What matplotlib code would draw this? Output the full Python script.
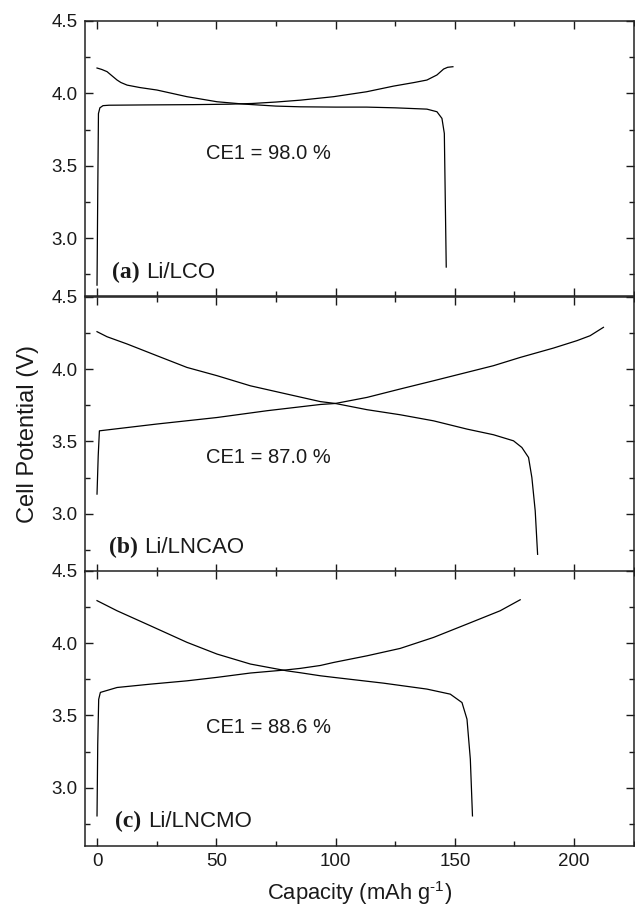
import matplotlib
matplotlib.use("Agg")
import matplotlib.pyplot as plt
from matplotlib.ticker import MultipleLocator

plt.rcParams['font.family'] = ['Liberation Sans', 'DejaVu Sans']
plt.rcParams['mathtext.fontset'] = 'custom'
plt.rcParams['mathtext.rm'] = 'Liberation Sans'
plt.rcParams['mathtext.it'] = 'Liberation Sans:italic'
plt.rcParams['mathtext.bf'] = 'Liberation Sans:bold'

# ---- data ----
a_dis_x = [0, 2, 4.2, 6, 8.4, 10, 12.6, 18, 25.1, 37.7, 50.3, 61.4, 75, 85.3, 100, 113, 125, 138.3, 142.5, 144.6, 145.6, 146, 146.4]
a_dis_y = [4.175, 4.165, 4.15, 4.125, 4.092, 4.075, 4.057, 4.04, 4.023, 3.977, 3.942, 3.926, 3.912, 3.907, 3.905, 3.905, 3.900, 3.891, 3.873, 3.827, 3.723, 3.262, 2.80]
a_chg_x = [0, 0.3, 0.6, 1.2, 2.5, 5, 20, 40, 55, 65, 75, 85.3, 99.2, 113, 124.3, 133, 138.3, 142.5, 145.3, 147, 149.2]
a_chg_y = [2.675, 3.3, 3.86, 3.9, 3.915, 3.918, 3.92, 3.922, 3.925, 3.93, 3.94, 3.953, 3.977, 4.011, 4.05, 4.075, 4.092, 4.127, 4.168, 4.18, 4.184]

b_dis_x = [0, 4.2, 12.6, 25.1, 37.7, 50.3, 64.3, 79.6, 93.6, 99.9, 113.2, 127.1, 141.1, 155.1, 166.2, 174.6, 178.1, 180.9, 182.3, 183.7, 184.7]
b_dis_y = [4.258, 4.223, 4.173, 4.092, 4.011, 3.954, 3.884, 3.827, 3.775, 3.762, 3.719, 3.684, 3.642, 3.585, 3.546, 3.504, 3.458, 3.389, 3.25, 3.02, 2.72]
b_chg_x = [0, 0.5, 1.0, 25.1, 50.3, 71.3, 93.6, 99.9, 113.2, 127.1, 141.1, 155.1, 166.2, 177.4, 191.4, 201.2, 206.7, 212.3]
b_chg_y = [3.136, 3.4, 3.573, 3.62, 3.665, 3.712, 3.755, 3.762, 3.804, 3.862, 3.919, 3.977, 4.023, 4.08, 4.145, 4.196, 4.23, 4.288]

c_dis_x = [0, 8.4, 22.3, 37.7, 50.3, 64.3, 79.6, 85.2, 93.6, 99.2, 120.1, 138.3, 148.1, 153, 155.1, 156.5, 157.4]
c_dis_y = [4.293, 4.223, 4.12, 4.005, 3.924, 3.855, 3.808, 3.795, 3.774, 3.763, 3.723, 3.682, 3.647, 3.589, 3.474, 3.198, 2.806]
c_chg_x = [0, 0.3, 0.7, 1.4, 8.4, 22.3, 37.7, 50.3, 64.3, 79.6, 85.2, 93.6, 99.2, 113.2, 127.1, 141.1, 155.1, 169, 177.4]
c_chg_y = [2.806, 3.3, 3.611, 3.659, 3.693, 3.716, 3.739, 3.763, 3.793, 3.815, 3.825, 3.845, 3.866, 3.912, 3.963, 4.039, 4.131, 4.223, 4.299]

panel_letters = ['(a)', '(b)', '(c)']
panel_names = ['Li/LCO', 'Li/LNCAO', 'Li/LNCMO']
ce_labels = ['CE1 = 98.0 %', 'CE1 = 87.0 %', 'CE1 = 88.6 %']
ce_y = [3.544, 3.35, 3.378]
yticks = [3.0, 3.5, 4.0, 4.5]
xticks = [0, 50, 100, 150, 200]

curves = [(a_dis_x, a_dis_y, a_chg_x, a_chg_y),
          (b_dis_x, b_dis_y, b_chg_x, b_chg_y),
          (c_dis_x, c_dis_y, c_chg_x, c_chg_y)]

letter_x = [6.3, 4.9, 7.7]

TXT = '#1a1a1a'
fig = plt.figure(figsize=(6.35, 9.08), dpi=100)
left, width, height = 0.134, 0.864, 0.3029
bottoms = [0.674, 0.3704, 0.0686]
axes = []
for i in range(3):
    ax = fig.add_axes([left, bottoms[i], width, height])
    axes.append(ax)
    dx, dy, cx, cy = curves[i]
    ax.plot(dx, dy, color='black', lw=0.9)
    ax.plot(cx, cy, color='black', lw=0.9)
    ax.set_xlim(-5, 225)
    ax.set_ylim(2.6, 4.5)
    ax.set_yticks(yticks)
    ax.set_yticklabels([f'{v:.1f}' for v in yticks])
    ax.yaxis.set_minor_locator(MultipleLocator(0.25))
    ax.set_xticks(xticks)
    ax.xaxis.set_minor_locator(MultipleLocator(25))
    ax.tick_params(which='both', direction='in', top=True, right=True,
                   labelsize=13.5, colors=TXT, width=1.0)
    ax.tick_params(which='major', length=6, pad=5.5)
    ax.tick_params(which='minor', length=3.5)
    for s in ax.spines.values():
        s.set_linewidth(1.1)
        s.set_color('#222222')
    if i < 2:
        ax.tick_params(labelbottom=False)
    ax.text(45.8, ce_y[i], ce_labels[i], fontsize=14.5, color=TXT, va='baseline')
    lt = ax.text(letter_x[i], 2.727, panel_letters[i], fontsize=17, color=TXT,
                 va='baseline', family='Liberation Serif', fontweight='bold')
    ax.annotate(panel_names[i], xy=(1, 2.727), xycoords=(lt, 'data'),
                xytext=(4.8, 0), textcoords='offset points',
                fontsize=16, color=TXT, va='baseline', ha='left')

axes[2].set_xlabel(r'Capacity (mAh g$^{\text{-1}}$)', fontsize=15.8, color=TXT, labelpad=6)
axes[1].set_ylabel('Cell Potential (V)', fontsize=17, color=TXT, labelpad=9)

fig.savefig('out.png', dpi=100)
